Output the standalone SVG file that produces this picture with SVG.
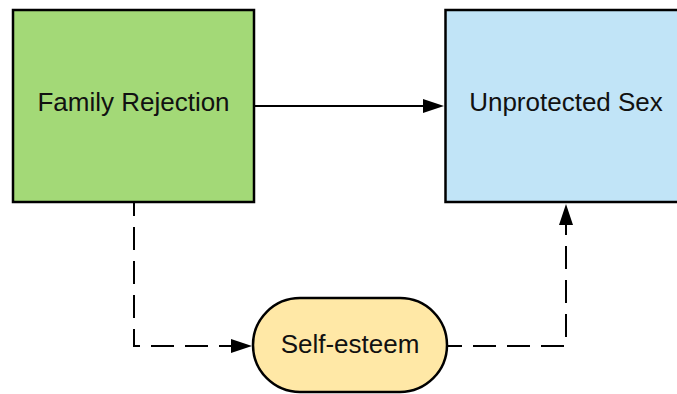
<svg xmlns="http://www.w3.org/2000/svg" width="677" height="394" viewBox="0 0 677 394">
  <style>
    .box { stroke: #000; stroke-width: 2.5; }
    .lbl { font-family: "Liberation Sans", Arial, sans-serif; font-size: 26px; fill: #111; text-anchor: middle; }
    .conn { fill: none; stroke: #000; stroke-width: 2; }
    .dash { stroke-dasharray: 23 11; }
  </style>
  <defs>
    <marker id="arrow" markerUnits="userSpaceOnUse" markerWidth="22" markerHeight="16" viewBox="0 0 22 16" refX="11" refY="8" orient="auto">
      <path d="M0,1 L21,8 L0,15 z" fill="#000"/>
    </marker>
  </defs>
  <rect width="677" height="394" fill="#fff"/>
  <g id="connectors">
    <path class="conn" d="M254,106 H434" marker-end="url(#arrow)"/>
    <path class="conn dash" stroke-dashoffset="9" d="M134,202 V346 H242" marker-end="url(#arrow)"/>
    <path class="conn dash" stroke-dashoffset="8" d="M447,346 H566 V214" marker-end="url(#arrow)"/>
  </g>
  <g id="family-rejection">
    <rect class="box" x="13" y="10" width="241" height="192" fill="#a3d977"/>
    <text class="lbl" x="133.5" y="111">Family Rejection</text>
  </g>
  <g id="unprotected-sex">
    <rect class="box" x="445.5" y="10" width="241" height="192" fill="#c1e4f7"/>
    <text class="lbl" x="566" y="111">Unprotected Sex</text>
  </g>
  <g id="self-esteem">
    <rect class="box" x="253" y="298" width="194" height="94" rx="47" ry="47" fill="#ffe8a6"/>
    <text class="lbl" x="350" y="353">Self-esteem</text>
  </g>
</svg>
